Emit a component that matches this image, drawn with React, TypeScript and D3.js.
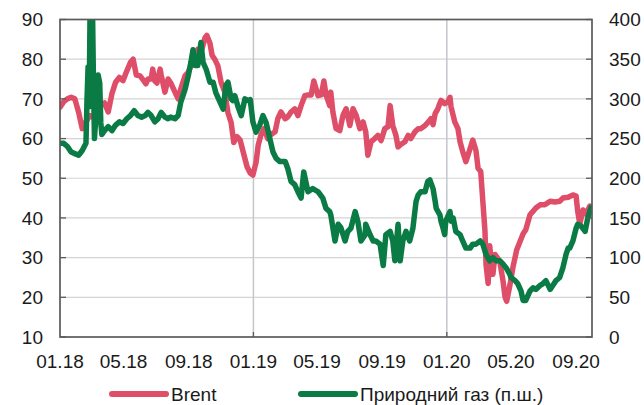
import React from "react";
import * as d3 from "d3";

// Day offsets from 2018-01-01 with values
const brentSeries: [number, number][] = [
  [0,67.9],[7,69.3],[14,70],[21,70.4],[28,70],[35,66.7],[42,62.5],[49,64.2],[56,65.8],[63,65.4],[70,67],[77,68.3],[84,69],[91,66.7],[98,71.3],[105,74.2],[112,75.4],[119,74.6],[126,77],[133,79.2],[138,80],[144,76],[151,75.8],[158,74.6],[162,73.8],[166,75],[172,75],[175,77.5],[179,74.5],[183,74],[189,77.5],[191,76],[198,71.7],[204,75],[209,74],[217,71.7],[223,70],[228,72.5],[236,75.8],[242,76.7],[247,78.3],[255,80.8],[260,82.5],[266,81.7],[274,85.5],[277,86],[283,84],[287,81],[292,80],[298,78.3],[304,74.2],[311,71.7],[317,66.5],[323,64],[328,59],[334,60.5],[340,59.6],[345,57],[353,52.9],[359,51.3],[364,50.8],[370,54],[374,58.3],[379,60.8],[385,62.5],[392,60],[398,61],[406,61.7],[411,65],[417,66.7],[425,65],[430,65.5],[436,66.7],[443,67.5],[449,65.8],[455,68.3],[462,70.8],[468,71],[474,71],[479,74.5],[487,70.8],[493,71],[498,74.5],[502,71],[509,68.3],[511,71.7],[515,66.7],[521,62.5],[528,62],[534,65.8],[540,67.5],[547,63.3],[553,67.5],[559,65.8],[566,62.5],[572,64.2],[577,61.7],[581,55.8],[587,59.2],[594,60],[600,60.8],[606,59.5],[613,62.5],[619,63],[623,68.3],[628,63.3],[634,60.8],[638,57.9],[643,58.5],[651,59.2],[657,60.8],[662,60],[670,61.7],[676,62.5],[681,62.5],[689,63.3],[694,64],[700,65],[704,63.5],[708,66.3],[713,67.5],[719,69.6],[726,68.8],[732,69.2],[736,70.4],[738,68],[745,64.2],[751,62.5],[755,59.2],[760,56.7],[766,54.2],[774,57.5],[779,59.6],[785,57],[789,52.5],[794,51.7],[798,44.2],[802,36.7],[804,28.3],[808,23.5],[811,33],[813,30],[817,25.8],[821,30.8],[825,30],[830,29],[836,24.2],[840,20],[843,19],[849,23],[855,27.7],[862,32],[868,34],[874,36],[879,37],[887,40.8],[893,41.7],[898,42.5],[906,43.3],[915,43.3],[925,44.2],[934,44],[943,44.2],[949,45],[959,45.2],[968,45.8],[974,45.5],[977,41.7],[981,38.5],[987,42],[993,41],[1000,43]
];

const gasSeries: [number, number][] = [
  [0,244],[7,244],[14,240],[21,233],[28,231],[35,229],[42,235],[49,244],[51,300],[53,340],[55,290],[57,430],[61,430],[63,330],[65,250],[68,280],[72,330],[75,320],[77,270],[79,255],[84,260],[91,265],[98,260],[105,267],[112,271],[119,269],[126,275],[133,279],[140,285],[147,279],[154,277],[161,279],[166,283],[172,279],[179,271],[185,275],[191,283],[198,277],[204,275],[209,277],[217,275],[223,279],[228,296],[236,312],[242,329],[247,346],[251,362],[255,342],[260,342],[266,371],[270,346],[276,337],[283,321],[289,321],[294,308],[302,296],[308,287],[313,317],[317,321],[323,300],[326,298],[330,304],[336,290],[342,279],[349,300],[355,298],[359,299],[364,271],[370,258],[377,267],[383,279],[389,270],[396,250],[402,233],[408,225],[415,221],[425,221],[430,212],[436,196],[443,192],[449,183],[455,175],[460,208],[468,183],[477,187],[487,183],[496,175],[502,162],[509,158],[511,154],[519,121],[525,142],[530,138],[538,121],[543,133],[549,137],[557,158],[562,146],[568,121],[576,129],[577,142],[585,129],[591,121],[596,121],[604,117],[610,90],[615,129],[623,133],[628,121],[632,96],[638,142],[642,96],[647,121],[653,133],[660,121],[666,137],[672,171],[676,179],[681,183],[689,183],[694,196],[698,198],[704,187],[708,171],[710,162],[717,154],[719,146],[723,137],[726,129],[728,146],[736,158],[738,146],[742,150],[747,133],[755,129],[760,121],[766,112],[774,112],[779,117],[785,117],[793,121],[798,117],[804,104],[811,96],[817,100],[823,96],[830,96],[836,92],[842,87],[849,79],[851,75],[859,71],[864,67],[870,58],[874,46],[879,46],[887,58],[893,62],[898,60],[906,65],[911,67],[917,71],[925,60],[930,65],[936,71],[943,75],[949,87],[955,104],[959,112],[962,112],[968,121],[974,137],[977,142],[983,140],[991,133],[996,150],[1002,163]
];

const leftTicks = [10, 20, 30, 40, 50, 60, 70, 80, 90];
const rightTicks = [0, 50, 100, 150, 200, 250, 300, 350, 400];
const xLabelDates = ["2018-01-01","2018-05-01","2018-09-01","2019-01-01","2019-05-01","2019-09-01","2020-01-01","2020-05-01","2020-09-01"];
const yearDates = ["2019-01-01", "2020-01-01"];
const legendLabels = ["Brent", "Природний газ (п.ш.)"];

const W = 644, H = 405;
const L = 60, R = 592, T = 19.5, B = 337;
const RED = "#DF4E68";
const GREEN = "#0A7B44";
const FONT = "'Liberation Sans', Arial, sans-serif";

export default function App() {
  const start = new Date(Date.UTC(2018, 0, 1));
  const x = d3.scaleUtc().domain([start, new Date(Date.UTC(2020, 9, 1))]).range([L, R]);
  const yL = d3.scaleLinear().domain([10, 90]).range([B, T]);
  const yR = d3.scaleLinear().domain([0, 400]).range([B, T]);
  const toDate = (d: number) => d3.utcDay.offset(start, d);
  const parse = (s: string) => new Date(s + "T00:00:00Z");

  const brentLine = d3.line<[number, number]>().x(d => x(toDate(d[0]))).y(d => yL(d[1]));
  const gasLine = d3.line<[number, number]>().x(d => x(toDate(d[0]))).y(d => yR(d[1]));

  const fmt = d3.utcFormat("%m.%y");

  return (
    <svg width={W} height={H} style={{ position: "absolute", left: 0, top: 0, background: "#fff" }}
      fontFamily={FONT}>
      <defs>
        <clipPath id="plot">
          <rect x={L} y={T} width={R - L} height={B - T} />
        </clipPath>
      </defs>
      {leftTicks.filter(t => t > 10 && t < 90).map(t => (
        <line key={"g" + t} x1={L} x2={R} y1={yL(t)} y2={yL(t)} stroke="#d4d4d4" strokeWidth={1.2} />
      ))}
      {yearDates.map(s => (
        <line key={"v" + s} x1={x(parse(s))} x2={x(parse(s))} y1={T} y2={B} stroke="#c3c7cb" strokeWidth={1.5} />
      ))}
      <g clipPath="url(#plot)">
        <path d={brentLine(brentSeries) || ""} fill="none" stroke={RED} strokeWidth={5.5} strokeLinejoin="round" strokeLinecap="round" />
        <path d={gasLine(gasSeries) || ""} fill="none" stroke={GREEN} strokeWidth={5.5} strokeLinejoin="round" strokeLinecap="round" />
      </g>
      <rect x={L} y={T} width={R - L} height={B - T} fill="none" stroke="#5a5a5a" strokeWidth={1.7} />
      {leftTicks.map(t => (
        <g key={"l" + t}>
          <line x1={L} x2={L + 6} y1={yL(t)} y2={yL(t)} stroke="#5a5a5a" strokeWidth={1.3} />
          <text x={43} y={yL(t)} dy="0.35em" textAnchor="end" fontSize={19} fill="#1a1a1a">{t}</text>
        </g>
      ))}
      {rightTicks.map(t => (
        <g key={"r" + t}>
          <line x1={R - 6} x2={R} y1={yR(t)} y2={yR(t)} stroke="#5a5a5a" strokeWidth={1.3} />
          <text x={609} y={yR(t)} dy="0.35em" textAnchor="start" fontSize={19} fill="#1a1a1a">{t}</text>
        </g>
      ))}
      {yearDates.map(s => (
        <line key={"b" + s} x1={x(parse(s))} x2={x(parse(s))} y1={B - 5} y2={B} stroke="#5a5a5a" strokeWidth={1.3} />
      ))}
      {xLabelDates.map(s => (
        <text key={"x" + s} x={x(parse(s))} y={368} textAnchor="middle" fontSize={19} fill="#1a1a1a">{fmt(parse(s))}</text>
      ))}
      <line x1={112} x2={166} y1={394} y2={394} stroke={RED} strokeWidth={6} strokeLinecap="round" />
      <text x={171} y={394} dy="0.35em" fontSize={19} fill="#1a1a1a">{legendLabels[0]}</text>
      <line x1={301} x2={355} y1={394} y2={394} stroke={GREEN} strokeWidth={6} strokeLinecap="round" />
      <text x={360} y={394} dy="0.35em" fontSize={19} fill="#1a1a1a">{legendLabels[1]}</text>
    </svg>
  );
}
